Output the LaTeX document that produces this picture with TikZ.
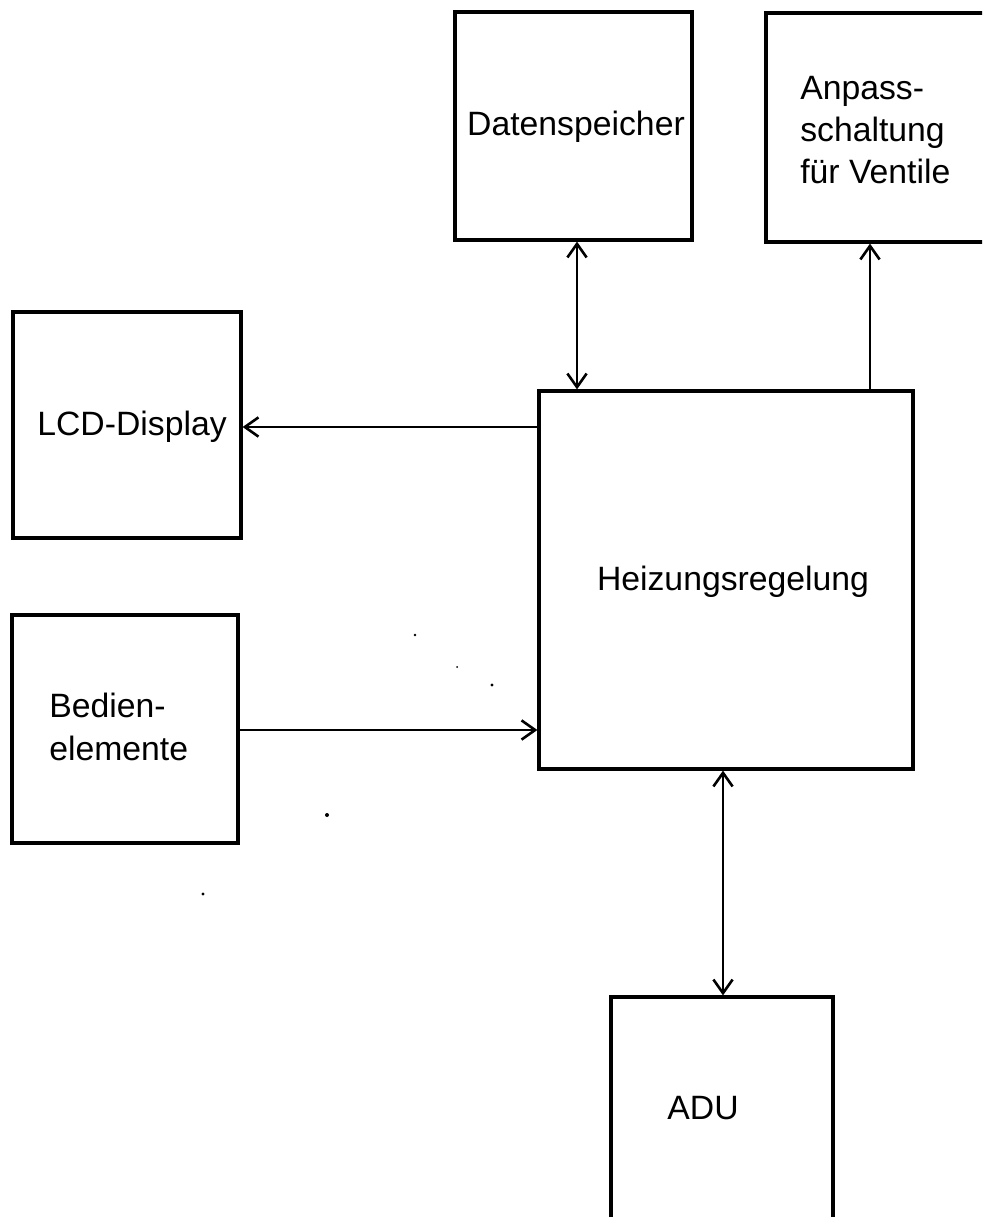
\documentclass[tikz,border=0pt]{standalone}
\usepackage{fontspec}
\setmainfont{Liberation Sans}
\usetikzlibrary{arrows.meta}
\begin{document}
\begin{tikzpicture}[x=0.25mm,y=-0.25mm,
  box/.style={draw, line width=0.8mm, rectangle, inner sep=0pt},
  lbl/.style={inner sep=0pt, font=\fontsize{24}{30}\selectfont},
  tip/.style={Straight Barb[length=3.4mm,width=4.8mm,line width=0.65mm]},
  arr/.style={line width=0.65mm, -{Straight Barb[length=3.4mm,width=4.8mm,line width=0.65mm]}},
  biarr/.style={line width=0.65mm, {Straight Barb[length=3.4mm,width=4.8mm,line width=0.65mm]}-{Straight Barb[length=3.4mm,width=4.8mm,line width=0.65mm]}},
  speck/.style={fill=black, draw=none}]
  \clip (0,0) rectangle (982,1217);
  \fill[white] (0,0) rectangle (982,1217);

  % blocks
  \node[box, minimum width=59.25mm, minimum height=57mm]   (ds)  at (573.5,126)  {};
  \node[box, minimum width=58.5mm, minimum height=57.25mm] (an)  at (883,127.5)  {};
  \node[box, minimum width=57mm, minimum height=56.5mm]    (lcd) at (127,425)    {};
  \node[box, minimum width=56.5mm, minimum height=57mm]    (bed) at (125,729)    {};
  \node[box, minimum width=93.5mm, minimum height=94.5mm]  (hz)  at (726,580)    {};
  \node[box, minimum width=55.5mm, minimum height=60.75mm] (adu) at (722,1118.5) {};

  % labels
  \node[lbl] (dsT)  at (576,127)  {Datenspeicher};
  \node[lbl, anchor=west, align=left] (anT) at (800,130) {Anpass-\\schaltung\\für Ventile};
  \node[lbl] (lcdT) at (132,427)  {LCD-Display};
  \node[lbl, anchor=west, align=left] (bedT) at (49,727) {Bedien-\\elemente};
  \node[lbl] (hzT)  at (733,582)  {Heizungsregelung};
  \node[lbl] (aduT) at (703,1108) {ADU};

  % connector positions
  \coordinate (dsx)  at (577,0);
  \coordinate (anx)  at (870,0);
  \coordinate (lcdy) at (0,427);
  \coordinate (bedy) at (0,730);
  \coordinate (adux) at (723,0);

  % connectors
  \draw[biarr] (ds.south -| dsx) -- (hz.north -| dsx);
  \draw[arr]   (hz.north -| anx) -- (an.south -| anx);
  \draw[arr]   (hz.west |- lcdy) -- (lcd.east |- lcdy);
  \draw[arr]   (bed.east |- bedy) -- (hz.west |- bedy);
  \draw[biarr] (hz.south -| adux) -- (adu.north -| adux);

  % specks
  \fill[speck] (415,635) circle (0.35mm);
  \fill[speck] (457,667) circle (0.25mm);
  \fill[speck] (492,685) circle (0.4mm);
  \fill[speck] (327,815) circle (0.5mm);
  \fill[speck] (203,894) circle (0.4mm);
\end{tikzpicture}
\end{document}
